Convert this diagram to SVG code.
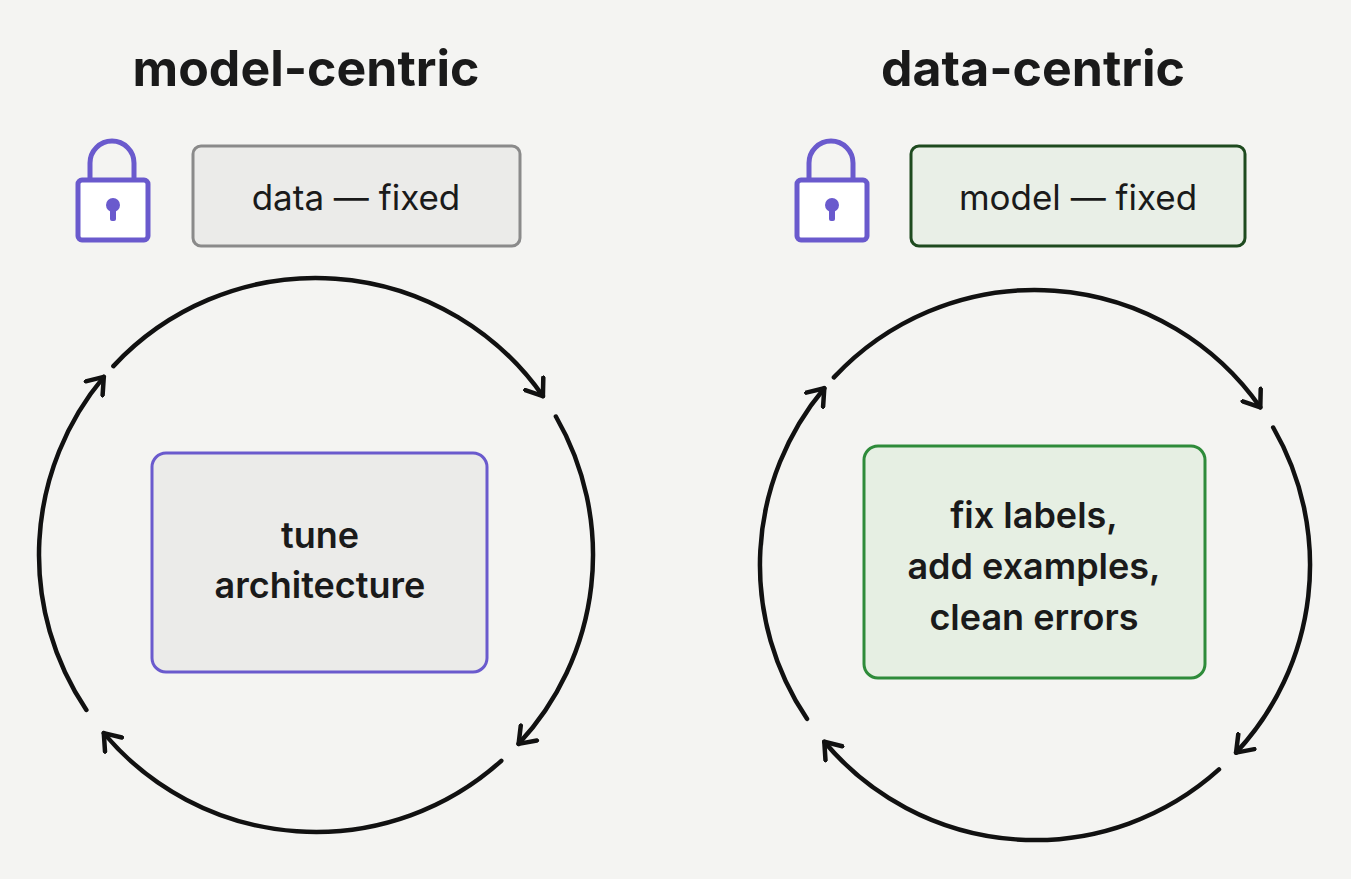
<svg xmlns="http://www.w3.org/2000/svg" width="1351" height="879" viewBox="0 0 1351 879">
<style>
.title{font-family:"Inter","Liberation Sans",sans-serif;font-weight:700;font-size:50px;fill:#1a1a1a;text-anchor:middle}
.lbl{font-family:"Inter","Liberation Sans",sans-serif;font-size:35px;fill:#1a1a1a;text-anchor:middle}
.blbl{font-family:"Inter","Liberation Sans",sans-serif;font-weight:600;font-size:36px;fill:#1a1a1a;text-anchor:middle}
.arc{fill:none;stroke:#111;stroke-width:4.5;stroke-linecap:round}
.lock{fill:#fff;stroke:#6a5acd;stroke-width:5}
</style>
<defs>
<marker id="ah" viewBox="-17 -13 21 26" markerWidth="21" markerHeight="26" refX="0" refY="0" orient="auto" markerUnits="userSpaceOnUse">
<path d="M-15,-11 L0,0 L-15,11" fill="none" stroke="#111" stroke-width="4.5" stroke-linecap="round" stroke-linejoin="round"/>
</marker>
<g id="lockdef">
<path d="M14,45 V28 A22,22 0 0 1 58,28 V45" fill="none" stroke="#6a5acd" stroke-width="5"/>
<rect x="2" y="45" width="70" height="60" rx="4" class="lock"/>
<circle cx="37" cy="70" r="7" fill="#6a5acd"/>
<rect x="34" y="70" width="6" height="16" rx="2" fill="#6a5acd"/>
</g>
</defs>
<rect width="1351" height="879" fill="#f4f4f2"/>
<text class="title" x="306" y="86">model-centric</text>
<text class="title" x="1033" y="86">data-centric</text>
<g id="lock-left"><use href="#lockdef" x="76" y="135"/></g>
<g id="lock-right"><use href="#lockdef" x="795" y="135"/></g>
<g id="data-fixed"><rect x="193" y="146" width="327" height="100" rx="8" fill="#ebebe9" stroke="#8a8a8a" stroke-width="3"/><text class="lbl" x="356" y="210">data — fixed</text></g>
<g id="model-fixed"><rect x="911" y="146" width="334" height="100" rx="8" fill="#e9efe7" stroke="#1e4a1f" stroke-width="3"/><text class="lbl" x="1078" y="210">model — fixed</text></g>
<g id="tune"><rect x="152" y="453" width="335" height="219" rx="14" fill="#ebebe9" stroke="#6a5acd" stroke-width="3"/><text class="blbl" x="320" y="548">tune</text><text class="blbl" x="320" y="598">architecture</text></g>
<g id="fix"><rect x="864" y="446" width="341" height="232" rx="14" fill="#e6efe3" stroke="#2e8b3a" stroke-width="3"/><text class="blbl" x="1034" y="528">fix labels,</text><text class="blbl" x="1034" y="579">add examples,</text><text class="blbl" x="1034" y="630">clean errors</text></g>
<g id="connectors">
<path class="arc" marker-end="url(#ah)" d="M113.4,366.1 A277,277 0 0 1 542.9,396.1"/>
<path class="arc" marker-end="url(#ah)" d="M555.9,416.5 A277,277 0 0 1 518.6,743.9"/>
<path class="arc" marker-end="url(#ah)" d="M501.3,760.8 A277,277 0 0 1 103.8,733.1"/>
<path class="arc" marker-end="url(#ah)" d="M86.4,709.9 A277,277 0 0 1 103.8,376.9"/>
<path class="arc" marker-end="url(#ah)" d="M833.9,377.4 A275,275 0 0 1 1260.3,407.3"/>
<path class="arc" marker-end="url(#ah)" d="M1273.2,427.5 A275,275 0 0 1 1236.1,752.6"/>
<path class="arc" marker-end="url(#ah)" d="M1219.0,769.4 A275,275 0 0 1 824.3,741.8"/>
<path class="arc" marker-end="url(#ah)" d="M807.0,718.8 A275,275 0 0 1 824.3,388.2"/>
</g>
</svg>
